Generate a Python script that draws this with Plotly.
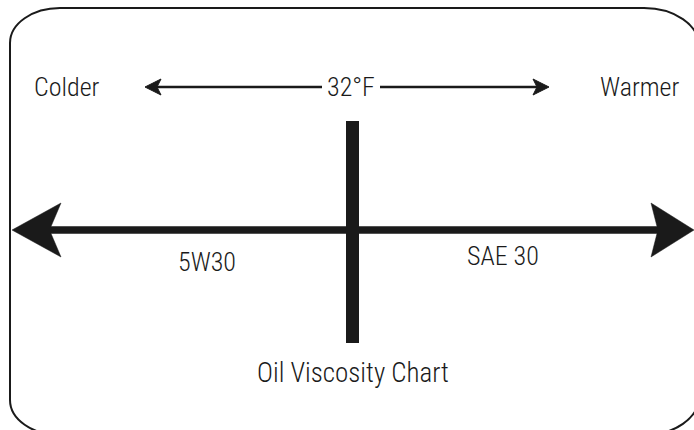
import plotly.graph_objects as go

# ---- content (text of the diagram) ----
direction_labels = ["Colder", "Warmer"]
threshold_label = ["32°F"]
grade_labels = ["5W30", "SAE 30"]
chart_title = ["Oil Viscosity Chart"]

FONT = "Roboto Condensed, Liberation Sans Narrow, Roboto, sans-serif"
INK = "#1a1a1a"

fig = go.Figure()

# ---- rounded frame (cubic bezier corners) ----
L, T, R, B = 10, 8, 699, 435
k = 0.5523
rxl, ryl = 50, 35      # left corners
rxr, ryr = 55, 38      # right corners
frame = (
    f"M {L+rxl},{T} L {R-rxr},{T} "
    f"C {R-rxr+k*rxr},{T} {R},{T+ryr-k*ryr} {R},{T+ryr} "
    f"L {R},{B-ryr} "
    f"C {R},{B-ryr+k*ryr} {R-rxr+k*rxr},{B} {R-rxr},{B} "
    f"L {L+rxl},{B} "
    f"C {L+rxl-k*rxl},{B} {L},{B-ryl+k*ryl} {L},{B-ryl} "
    f"L {L},{T+ryl} "
    f"C {L},{T+ryl-k*ryl} {L+rxl-k*rxl},{T} {L+rxl},{T} Z"
)
fig.add_shape(type="path", path=frame, line=dict(color=INK, width=2), fillcolor="rgba(0,0,0,0)",
              xref="x", yref="y")

# ---- main double-headed arrow ----
main_arrow = ("M 12,230 L 61,203 L 51,226.5 L 657,226.5 L 651,203 L 694,230 "
              "L 651,257 L 657,233.5 L 51,233.5 L 61,257 Z")
fig.add_shape(type="path", path=main_arrow, line=dict(color=INK, width=0.5), fillcolor=INK,
              xref="x", yref="y")

# ---- vertical 32°F divider bar ----
fig.add_shape(type="rect", x0=346, x1=359, y0=121, y1=343, line=dict(color=INK, width=0),
              fillcolor=INK, xref="x", yref="y")

# ---- top thin arrows ----
fig.add_shape(type="line", x0=156, x1=322, y0=87, y1=87, line=dict(color=INK, width=2.5),
              xref="x", yref="y")
fig.add_shape(type="path", path="M 145,87 L 161,79 L 157,87 L 161,95 Z",
              line=dict(color=INK, width=1), fillcolor=INK, xref="x", yref="y")
fig.add_shape(type="line", x0=380, x1=537, y0=87, y1=87, line=dict(color=INK, width=2.5),
              xref="x", yref="y")
fig.add_shape(type="path", path="M 549,87 L 533,79 L 537,87 L 533,95 Z",
              line=dict(color=INK, width=1), fillcolor=INK, xref="x", yref="y")

# ---- text ----
def label(x, y, text, size=26):
    fig.add_annotation(x=x, y=y, text=text, showarrow=False, xref="x", yref="y",
                       xanchor="center", yanchor="middle",
                       font=dict(family=FONT, size=size, color=INK, weight=300))

label(67, 87, direction_labels[0])
label(639, 87, direction_labels[1])
label(351, 87, threshold_label[0])
label(207, 262, grade_labels[0])
label(503, 256, grade_labels[1])
label(353, 373, chart_title[0], size=27)

fig.update_xaxes(range=[0, 694], visible=False, fixedrange=True)
fig.update_yaxes(range=[430, 0], visible=False, fixedrange=True)
fig.update_layout(width=694, height=430, margin=dict(l=0, r=0, t=0, b=0),
                  paper_bgcolor="white", plot_bgcolor="white", showlegend=False)

fig.write_html("out.html", config={"displayModeBar": False},
               post_script="document.body.style.margin='0';")
